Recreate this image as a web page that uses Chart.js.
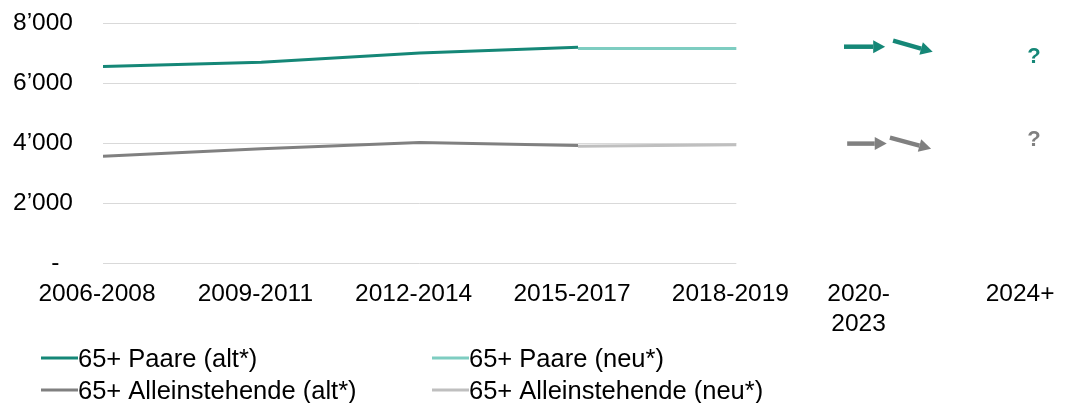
<!DOCTYPE html>
<html lang="de">
<head>
    <meta charset="UTF-8">
    <title>65+ Haushalte</title>
    <script src="https://cdn.jsdelivr.net/npm/chart.js"></script>
    <style>
        html, body { margin: 0; padding: 0; background: #fff; }
        .chart-box { width: 1078px; height: 403px; position: relative; }
    </style>
</head>
<body>
    <div class="chart-box"><canvas id="mainChart"></canvas></div>

    <script>
        // Kategorien und ihre Position auf der x-Achse
        const categories = ['2006-2008', '2009-2011', '2012-2014', '2015-2017', '2018-2019', ['2020-', '2023'], '2024+'];
        const categoryPos = [0, 1, 2, 3, 4, 4.81, 5.83];

        // Werte
        const paareAlt = [6550, 6690, 7000, 7190, null];
        const paareNeu = [null, null, null, 7150, 7150];
        const alleinAlt = [3560, 3810, 4020, 3920, null];
        const alleinNeu = [null, null, null, 3890, 3940];

        // Trendpfeile 2020-2023: [x0, y0, x1, y1]
        const paareArrows = [[4.68, 7210, 4.94, 7210], [4.99, 7410, 5.24, 7040]];
        const alleinArrows = [[4.70, 3980, 4.95, 3980], [4.97, 4180, 5.23, 3810]];
        // Fragezeichen 2024+
        const paareQuestion = [5.88, 6880];
        const alleinQuestion = [5.88, 4110];

        const yTicks = [0, 2000, 4000, 6000, 8000];

        const TEAL = '#158777';
        const TEAL_LIGHT = '#7ecdc1';
        const GREY = '#808080';
        const GREY_LIGHT = '#bfbfbf';
        const FONT = '"Liberation Sans", Arial, sans-serif';

        function toPoints(values) {
            return values
                .map((v, i) => v === null ? null : { x: categoryPos[i], y: v })
                .filter(p => p !== null);
        }

        function lineSet(label, values, color) {
            return {
                label: label,
                data: toPoints(values),
                borderColor: color,
                backgroundColor: color,
                borderWidth: 3,
                pointRadius: 0,
                tension: 0,
                inLegend: true
            };
        }

        function arrowSets(arrows, color) {
            return arrows.map(a => ({
                label: 'arrow',
                data: [{ x: a[0], y: a[1] }, { x: a[2], y: a[3] }],
                borderColor: color,
                showLine: false,
                pointRadius: 0,
                arrow: true
            }));
        }

        function questionSet(q, color) {
            return {
                label: 'question',
                data: [{ x: q[0], y: q[1] }],
                borderColor: color,
                showLine: false,
                pointRadius: 0,
                marker: '?'
            };
        }

        // horizontale Hilfslinien nur über den Datenbereich
        const gridPlugin = {
            id: 'shortGrid',
            beforeDatasetsDraw(chart) {
                const { ctx, scales: { x, y } } = chart;
                const x0 = x.getPixelForValue(categoryPos[0]);
                const x1 = x.getPixelForValue(categoryPos[4]);
                ctx.save();
                ctx.strokeStyle = '#d9d9d9';
                ctx.lineWidth = 1;
                yTicks.forEach(v => {
                    const py = Math.round(y.getPixelForValue(v)) + 0.5;
                    ctx.beginPath();
                    ctx.moveTo(x0, py);
                    ctx.lineTo(x1, py);
                    ctx.stroke();
                });
                ctx.restore();
            }
        };

        // Pfeile und Fragezeichen
        const markPlugin = {
            id: 'marks',
            afterDatasetsDraw(chart) {
                const ctx = chart.ctx;
                chart.data.datasets.forEach((ds, i) => {
                    const pts = chart.getDatasetMeta(i).data;
                    if (ds.arrow) {
                        const p0 = pts[0], p1 = pts[1];
                        const ang = Math.atan2(p1.y - p0.y, p1.x - p0.x);
                        const headLen = 12, headHalf = 6.5;
                        const bx = p1.x - headLen * Math.cos(ang);
                        const by = p1.y - headLen * Math.sin(ang);
                        ctx.save();
                        ctx.strokeStyle = ds.borderColor;
                        ctx.fillStyle = ds.borderColor;
                        ctx.lineWidth = 4.5;
                        ctx.beginPath();
                        ctx.moveTo(p0.x, p0.y);
                        ctx.lineTo(bx, by);
                        ctx.stroke();
                        ctx.beginPath();
                        ctx.moveTo(p1.x, p1.y);
                        ctx.lineTo(bx + headHalf * Math.sin(ang), by - headHalf * Math.cos(ang));
                        ctx.lineTo(bx - headHalf * Math.sin(ang), by + headHalf * Math.cos(ang));
                        ctx.closePath();
                        ctx.fill();
                        ctx.restore();
                    }
                    if (ds.marker) {
                        ctx.save();
                        ctx.fillStyle = ds.borderColor;
                        ctx.font = 'bold 22px ' + FONT;
                        ctx.textAlign = 'center';
                        ctx.textBaseline = 'middle';
                        ctx.fillText(ds.marker, pts[0].x, pts[0].y);
                        ctx.restore();
                    }
                });
            }
        };

        // Legende in zwei Spalten
        const legendPlugin = {
            id: 'twoColLegend',
            afterDraw(chart) {
                const ctx = chart.ctx;
                const items = chart.data.datasets.filter(ds => ds.inLegend);
                const colX = [41, 432];
                ctx.save();
                ctx.font = '25.5px ' + FONT;
                ctx.fillStyle = '#000';
                ctx.textBaseline = 'middle';
                items.forEach((ds, i) => {
                    const col = i % 2, row = Math.floor(i / 2);
                    const lx = colX[col];
                    const ly = 358 + row * 32;
                    ctx.strokeStyle = ds.borderColor;
                    ctx.lineWidth = 3;
                    ctx.beginPath();
                    ctx.moveTo(lx, ly);
                    ctx.lineTo(lx + 37, ly);
                    ctx.stroke();
                    ctx.fillText(ds.label, lx + 37, ly + 2);
                });
                ctx.restore();
            }
        };

        new Chart(document.getElementById('mainChart'), {
            type: 'line',
            data: {
                datasets: [
                    lineSet('65+ Paare (alt*)', paareAlt, TEAL),
                    lineSet('65+ Paare (neu*)', paareNeu, TEAL_LIGHT),
                    lineSet('65+ Alleinstehende (alt*)', alleinAlt, GREY),
                    lineSet('65+ Alleinstehende (neu*)', alleinNeu, GREY_LIGHT),
                    ...arrowSets(paareArrows, TEAL),
                    ...arrowSets(alleinArrows, GREY),
                    questionSet(paareQuestion, TEAL),
                    questionSet(alleinQuestion, GREY)
                ]
            },
            options: {
                responsive: true,
                maintainAspectRatio: false,
                animation: false,
                layout: { padding: { top: 23, left: 12, right: 25, bottom: 64 } },
                plugins: {
                    legend: { display: false },
                    tooltip: { enabled: false }
                },
                scales: {
                    x: {
                        type: 'linear',
                        min: 0,
                        max: 6,
                        grid: { display: false, drawTicks: false },
                        border: { display: false },
                        afterBuildTicks: axis => { axis.ticks = categoryPos.map(v => ({ value: v })); },
                        afterFit: axis => { axis.height = 76; axis.paddingLeft = 0; axis.paddingRight = 0; },
                        ticks: {
                            autoSkip: false,
                            maxRotation: 0,
                            padding: 17,
                            labelOffset: -6,
                            color: '#000',
                            font: { family: FONT, size: 24.5 },
                            callback: (value, index) => categories[index]
                        }
                    },
                    y: {
                        min: 0,
                        max: 8000,
                        grid: { display: false, drawTicks: false },
                        border: { display: false },
                        afterBuildTicks: axis => { axis.ticks = yTicks.map(v => ({ value: v })); },
                        afterFit: axis => { axis.width = 91; axis.paddingTop = 0; axis.paddingBottom = 0; },
                        ticks: {
                            padding: 30,
                            color: '#000',
                            font: { family: FONT, size: 24.5 },
                            callback: v => v === 0 ? '-  ' : (v / 1000) + '\u2019000'
                        }
                    }
                }
            },
            plugins: [gridPlugin, markPlugin, legendPlugin]
        });
    </script>
</body>
</html>
